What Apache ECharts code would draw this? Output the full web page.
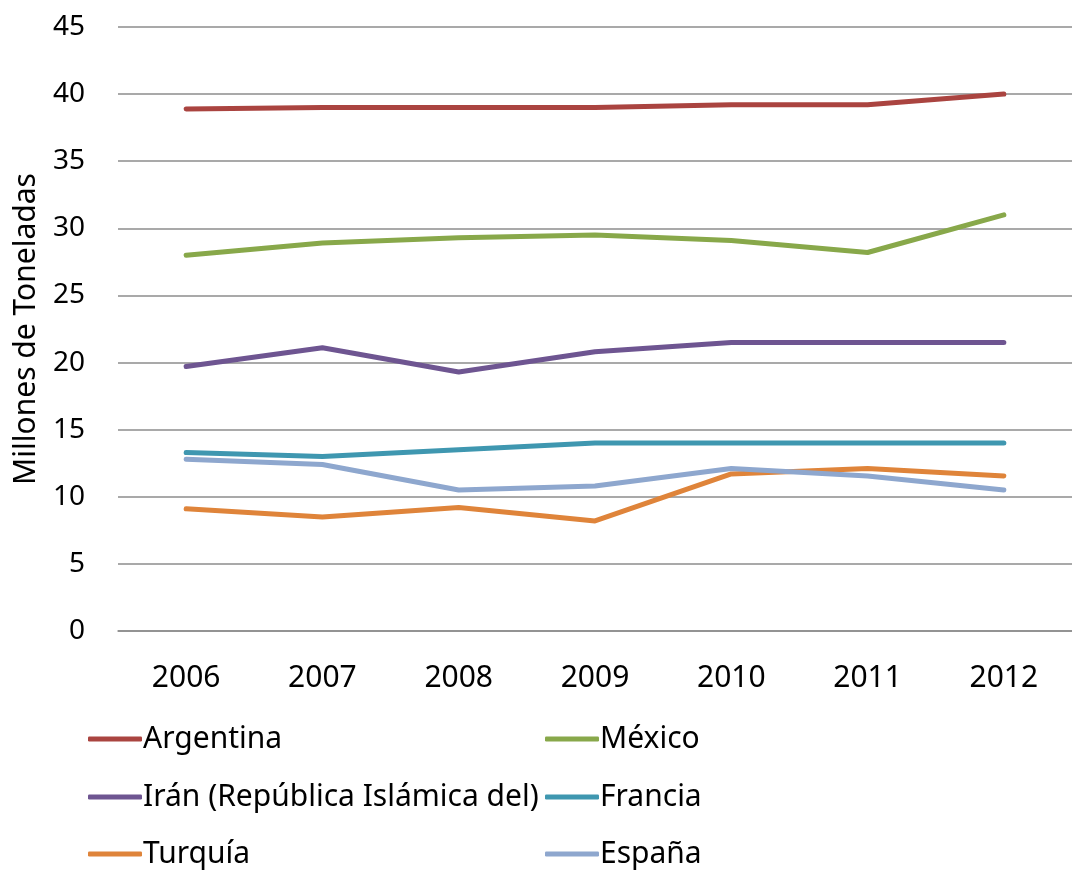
<!DOCTYPE html>
<html>
<head>
<meta charset="utf-8">
<script src="https://cdn.jsdelivr.net/npm/echarts@6/dist/echarts.min.js"></script>
<style>
  html, body { margin: 0; padding: 0; background: #fff; overflow: hidden; }
  #chart { width: 1072px; height: 871px; }
</style>
</head>
<body>
<div id="chart"></div>
<script>
// Production by country, million tonnes, 2006-2012
const years = ['2006', '2007', '2008', '2009', '2010', '2011', '2012'];
const argentina = [38.9, 39.0, 39.0, 39.0, 39.2, 39.2, 40.0];
const mexico = [28.0, 28.9, 29.3, 29.5, 29.1, 28.2, 31.0];
const iran = [19.7, 21.1, 19.3, 20.8, 21.5, 21.5, 21.5];
const francia = [13.3, 13.0, 13.5, 14.0, 14.0, 14.0, 14.0];
const turquia = [9.1, 8.5, 9.2, 8.2, 11.7, 12.1, 11.55];
const espana = [12.8, 12.4, 10.5, 10.8, 12.1, 11.55, 10.5];

const FONT = 'Noto Sans';

const seriesDefs = [
  { name: 'Argentina', data: argentina, color: '#AA4440' },
  { name: 'México', data: mexico, color: '#88A84A' },
  { name: 'Irán (República Islámica del)', data: iran, color: '#6E5591' },
  { name: 'Francia', data: francia, color: '#3F97B0' },
  { name: 'Turquía', data: turquia, color: '#DF843A' },
  { name: 'España', data: espana, color: '#8EA7CE' }
];

// legend placement: two columns, three rows
const legendPos = [
  { left: 88, top: 724 }, { left: 545, top: 724 },
  { left: 88, top: 782 }, { left: 545, top: 782 },
  { left: 88, top: 839 }, { left: 545, top: 839 }
];

const chart = echarts.init(document.getElementById('chart'));
chart.setOption({
  animation: false,
  backgroundColor: '#ffffff',
  grid: { left: 118, right: 0, top: 27, bottom: 240, containLabel: false, outerBoundsMode: 'none' },
  xAxis: {
    type: 'category',
    data: years,
    boundaryGap: true,
    axisLine: { show: true, lineStyle: { color: '#8c8c8c', width: 1.5 } },
    axisTick: { show: false },
    axisLabel: { color: '#000', fontFamily: FONT, fontSize: 30, margin: 32 }
  },
  yAxis: {
    type: 'value',
    min: 0, max: 45, interval: 5,
    name: 'Millones de Toneladas',
    nameLocation: 'middle',
    nameRotate: 90,
    nameGap: 77,
    nameTextStyle: { color: '#000', fontFamily: FONT, fontSize: 30 },
    axisLine: { show: false },
    axisTick: { show: false },
    axisLabel: { color: '#000', fontFamily: FONT, fontSize: 28, margin: 33 },
    splitLine: { lineStyle: { color: '#8c8c8c', width: 1.5 } }
  },
  legend: seriesDefs.map((s, i) => ({
    data: [s.name],
    left: legendPos[i].left,
    top: legendPos[i].top,
    orient: 'horizontal',
    icon: 'roundRect',
    itemWidth: 54,
    itemHeight: 5,
    itemGap: 0,
    padding: 0,
    selectedMode: false,
    textStyle: { color: '#000', fontFamily: FONT, fontSize: 30, padding: [0, 0, 0, -4] }
  })),
  series: seriesDefs.map(s => ({
    name: s.name,
    type: 'line',
    data: s.data,
    symbol: 'none',
    smooth: false,
    color: s.color,
    lineStyle: { color: s.color, width: 5, cap: 'round', join: 'round' }
  }))
});
</script>
</body>
</html>
